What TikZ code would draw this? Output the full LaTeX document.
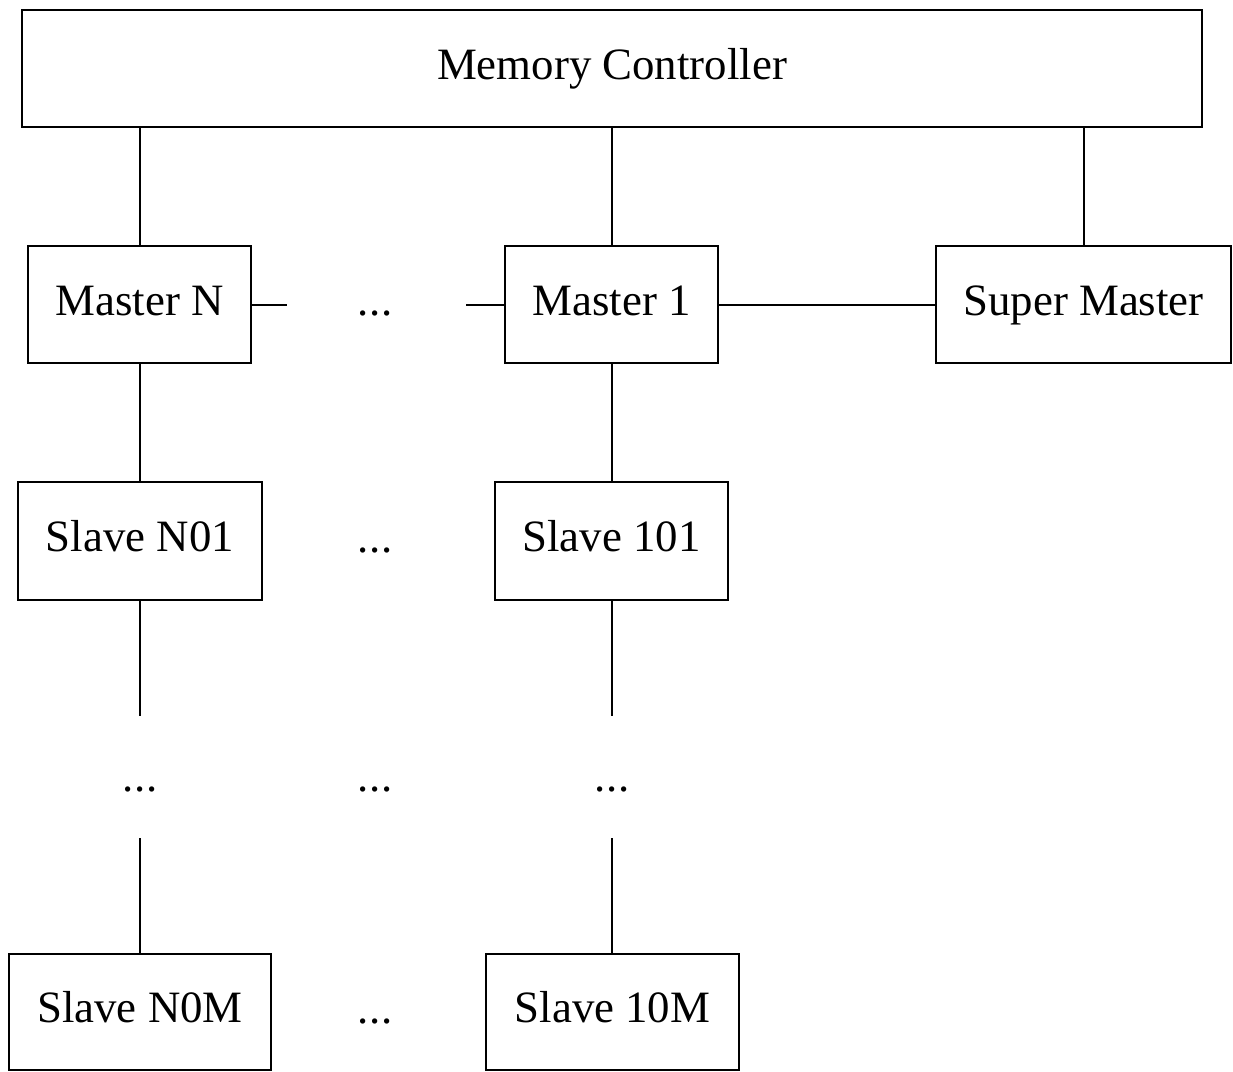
\documentclass[tikz,border=0pt]{standalone}
\usepackage{fontspec}
\setmainfont{Liberation Serif}
\begin{document}
\begin{tikzpicture}[x=1bp,y=-1bp,
  box/.style={draw,line width=2bp,inner sep=0pt,text height=31bp,text depth=10bp,
    font=\fontsize{45}{50}\selectfont},
  lbl/.style={inner sep=0pt,anchor=base,font=\fontsize{45}{50}\selectfont},
  link/.style={line width=2bp}]
\useasboundingbox (0,0) rectangle (1233,1072);
% controller
\node[box,minimum width=1180bp,minimum height=117bp] (mc) at (612,68.5) {Memory Controller};
% masters
\node[box,minimum width=223bp,minimum height=117bp] (mN) at (139.5,304.5) {Master N};
\node[box,minimum width=213bp,minimum height=117bp] (m1) at (611.5,304.5) {Master 1};
\node[box,minimum width=295bp,minimum height=117bp] (sm) at (1083.5,304.5) {Super Master};
% first slave row
\node[box,minimum width=244bp,minimum height=118bp] (sN1) at (140,541) {Slave N01};
\node[box,minimum width=233bp,minimum height=118bp] (s11) at (611.5,541) {Slave 101};
% last slave row
\node[box,minimum width=262bp,minimum height=116bp] (sNM) at (140,1012) {Slave N0M};
\node[box,minimum width=253bp,minimum height=116bp] (s1M) at (612.5,1012) {Slave 10M};
% ellipses, set on the same baseline as the box texts
\node[lbl] (dm) at (375,315) {.\kern1pt.\kern1pt.};
\node[lbl] (d1) at (375,552) {.\kern1pt.\kern1pt.};
\node[lbl] (dNc) at (140,791) {.\kern1pt.\kern1pt.};
\node[lbl] (dc) at (375,791) {.\kern1pt.\kern1pt.};
\node[lbl] (d1c) at (612,791) {.\kern1pt.\kern1pt.};
\node[lbl] (dM) at (375,1023) {.\kern1pt.\kern1pt.};
% free ends
\coordinate (aN) at (287,304.5);
\coordinate (a1) at (466,304.5);
\coordinate (vN1) at (140,716);
\coordinate (vN2) at (140,838);
\coordinate (v11) at (612,716);
\coordinate (v12) at (612,838);
% connectors
\draw[link] (mc.south -| mN) -- (mN.north);
\draw[link] (mc.south -| m1) -- (m1.north);
\draw[link] (mc.south -| sm) -- (sm.north);
\draw[link] (mN.east) -- (aN);
\draw[link] (a1) -- (m1.west);
\draw[link] (m1.east) -- (sm.west);
\draw[link] (mN.south) -- (sN1.north -| mN);
\draw[link] (m1.south) -- (s11.north -| m1);
\draw[link] (sN1.south) -- (vN1);
\draw[link] (vN2) -- (sNM.north);
\draw[link] (s11.south -| v11) -- (v11);
\draw[link] (v12) -- (s1M.north -| v12);
\end{tikzpicture}
\end{document}
